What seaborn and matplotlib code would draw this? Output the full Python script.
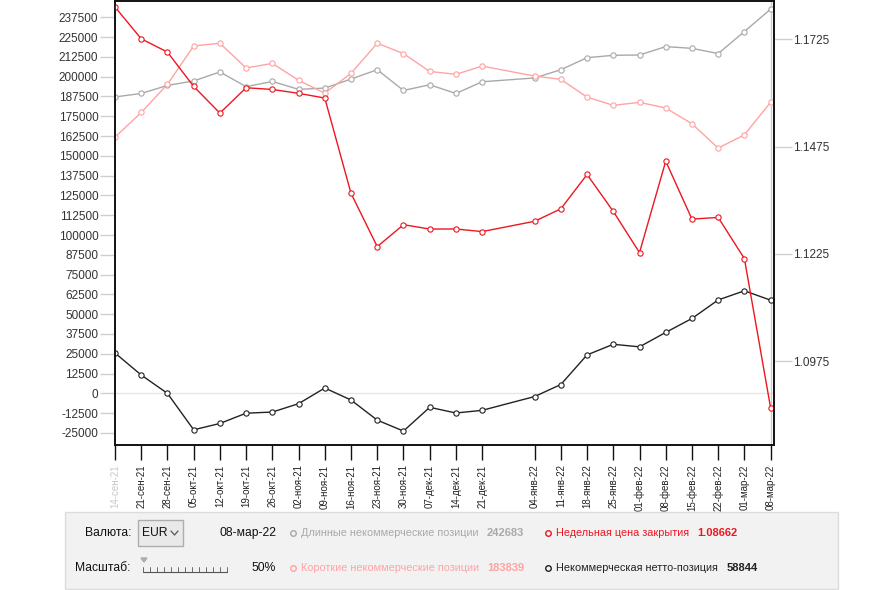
import matplotlib
matplotlib.use('Agg')
import matplotlib.pyplot as plt
from matplotlib.patches import Rectangle, Polygon
from matplotlib.lines import Line2D
import pandas as pd
import seaborn as sns

# weekly COT data, EUR
dates = ['2021-09-14', '2021-09-21', '2021-09-28', '2021-10-05', '2021-10-12',
         '2021-10-19', '2021-10-26', '2021-11-02', '2021-11-09', '2021-11-16',
         '2021-11-23', '2021-11-30', '2021-12-07', '2021-12-14', '2021-12-21',
         '2022-01-04', '2022-01-11', '2022-01-18', '2022-01-25', '2022-02-01',
         '2022-02-08', '2022-02-15', '2022-02-22', '2022-03-01', '2022-03-08']
long_pos = [187200, 189400, 194500, 197300, 203000, 193700, 197000, 192000, 192800, 198500,
            204400, 191300, 194900, 189400, 196800, 199200, 204400, 212000, 213500, 213700,
            219000, 217900, 214600, 228500, 242683]
short_pos = [161800, 177400, 195200, 219400, 221100, 205500, 208400, 197700, 189600, 202100,
             221100, 214600, 203300, 201500, 206700, 200400, 198300, 187100, 181900, 183800,
             180200, 170300, 154900, 163300, 183839]
net_pos = [25500, 11600, 0, -23000, -19000, -12500, -11800, -6500, 3400, -4200,
           -16900, -23800, -8800, -12400, -10700, -2000, 5600, 24300, 31000, 29400,
           38500, 47300, 59000, 64800, 58844]
price = [1.1800, 1.1726, 1.1695, 1.1615, 1.1553, 1.1612, 1.1608, 1.1599, 1.1588, 1.1366,
         1.1242, 1.1293, 1.1283, 1.1283, 1.1277, 1.1301, 1.1330, 1.1410, 1.1324, 1.1228,
         1.1441, 1.1306, 1.1310, 1.1214, 1.08662]
months_ru = {9: 'сен', 10: 'окт', 11: 'ноя', 12: 'дек', 1: 'янв', 2: 'фев', 3: 'мар'}
left_ticks = list(range(-25000, 237501, 12500))
right_ticks = [1.0975, 1.1225, 1.1475, 1.1725]

df = pd.DataFrame({'date': pd.to_datetime(dates), 'long': long_pos, 'short': short_pos,
                   'net': net_pos, 'price': price})
labels = ['%02d-%s-%s' % (d.day, months_ru[d.month], str(d.year)[2:]) for d in df['date']]

c_long = '#a9a9a9'
c_short = '#ffa3a3'
c_price = '#ee1620'
c_net = '#222222'

sns.set_style('white')
plt.rcParams['font.family'] = ['Liberation Sans', 'DejaVu Sans']

W, H = 894, 590
fig = plt.figure(figsize=(W / 100, H / 100), dpi=100)
ax = fig.add_axes([115 / W, 1 - 445 / H, (774 - 115) / W, 444 / H])
ax2 = ax.twinx()

mk = dict(marker='o', markersize=3.8, markerfacecolor='white', markeredgewidth=0.8, linewidth=1.0)
sns.lineplot(data=df, x='date', y='long', ax=ax, color=c_long, markeredgecolor=c_long, **mk)
sns.lineplot(data=df, x='date', y='short', ax=ax, color=c_short, markeredgecolor=c_short, **mk)
sns.lineplot(data=df, x='date', y='net', ax=ax, color=c_net, markeredgecolor=c_net, **mk)
sns.lineplot(data=df, x='date', y='price', ax=ax2, color=c_price, markeredgecolor=c_price, **mk)

ax.axhline(0, color='#e6e6e6', linewidth=1, zorder=0)
ax.axvline(df['date'].iloc[-1], color='#cccccc', linewidth=1, zorder=0)

ax.set_xlim(df['date'].iloc[0], df['date'].iloc[-1] + pd.Timedelta(days=0.9))
ax.set_ylim(-32600, 247800)
ax2.set_ylim(1.0780, 1.1814)

ax.set_yticks(left_ticks)
ax.set_yticklabels([str(v) for v in left_ticks])
ax2.set_yticks(right_ticks)
ax2.set_yticklabels(['%.4f' % v for v in right_ticks])
ax.set_xticks(df['date'])
ax.set_xticklabels(labels, rotation=90, fontsize=7, color='#222222')
ax.get_xticklabels()[0].set_color('#c8c8c8')

ax.tick_params(axis='y', length=11, width=1, color='#d0d0d0', labelsize=8.5, labelcolor='#333333', pad=1)
ax2.tick_params(axis='y', length=13, width=1, color='#d0d0d0', labelsize=8.5, labelcolor='#333333', pad=1)
ax.tick_params(axis='x', length=11, width=1, color='#111111', bottom=True, pad=3)

for a in (ax, ax2):
    a.set_xlabel('')
    a.set_ylabel('')
    for s in a.spines.values():
        s.set_color('#111111')
        s.set_linewidth(1.2)

# control panel at the bottom
def fx(px):
    return px / W

def fy(py):
    return 1 - py / H

fig.add_artist(Rectangle((fx(65), fy(589)), fx(838) - fx(65), fy(512) - fy(589),
                         transform=fig.transFigure, facecolor='#f2f2f2', edgecolor='#dcdcdc', linewidth=1))
fig.add_artist(Rectangle((fx(138), fy(546)), fx(183) - fx(138), fy(520) - fy(546),
                         transform=fig.transFigure, facecolor='#e9e9e9', edgecolor='#adadad', linewidth=1))
fig.add_artist(Line2D([fx(171), fx(174.5), fx(178)], [fy(531), fy(535), fy(531)],
                      transform=fig.transFigure, color='#555555', linewidth=0.9))

fs = 8.7
fig.text(fx(131), fy(533), 'Валюта:', ha='right', va='center', fontsize=fs, color='#111111')
fig.text(fx(142), fy(533), 'EUR', ha='left', va='center', fontsize=fs, color='#111111')
fig.text(fx(276), fy(533), labels[-1], ha='right', va='center', fontsize=fs, color='#111111')
fig.text(fx(131), fy(568), 'Масштаб:', ha='right', va='center', fontsize=fs, color='#111111')
fig.text(fx(276), fy(568), '50%', ha='right', va='center', fontsize=fs, color='#111111')

# slider
fig.add_artist(Polygon([[fx(141), fy(558)], [fx(147), fy(558)], [fx(144), fy(562)]], closed=True,
                       transform=fig.transFigure, facecolor='#aaaaaa', edgecolor='#aaaaaa'))
fig.add_artist(Line2D([fx(143), fx(227)], [fy(572), fy(572)], transform=fig.transFigure,
                      color='#555555', linewidth=0.8))
for i in range(13):
    xx = 143 + i * 7
    fig.add_artist(Line2D([fx(xx), fx(xx)], [fy(572), fy(567)], transform=fig.transFigure,
                          color='#555555', linewidth=0.6))

legend_rows = [
    (293, 533, c_long, 'Длинные некоммерческие позиции', 487, str(long_pos[-1])),
    (548, 533, c_price, 'Недельная цена закрытия', 697, '%.5f' % price[-1]),
    (293, 568, c_short, 'Короткие некоммерческие позиции', 487, str(short_pos[-1])),
    (548, 568, c_net, 'Некоммерческая нетто-позиция', 727, str(net_pos[-1])),
]
for mx, my, col, name, vx, val in legend_rows:
    fig.add_artist(Line2D([fx(mx)], [fy(my)], transform=fig.transFigure, marker='o', markersize=4,
                          markerfacecolor='none', markeredgecolor=col, markeredgewidth=1))
    fig.text(fx(mx + 8), fy(my), name, ha='left', va='center', fontsize=7.8, color=col)
    fig.text(fx(vx), fy(my), val, ha='left', va='center', fontsize=8, color=col, fontweight='bold')

fig.savefig('out.png', dpi=100)
